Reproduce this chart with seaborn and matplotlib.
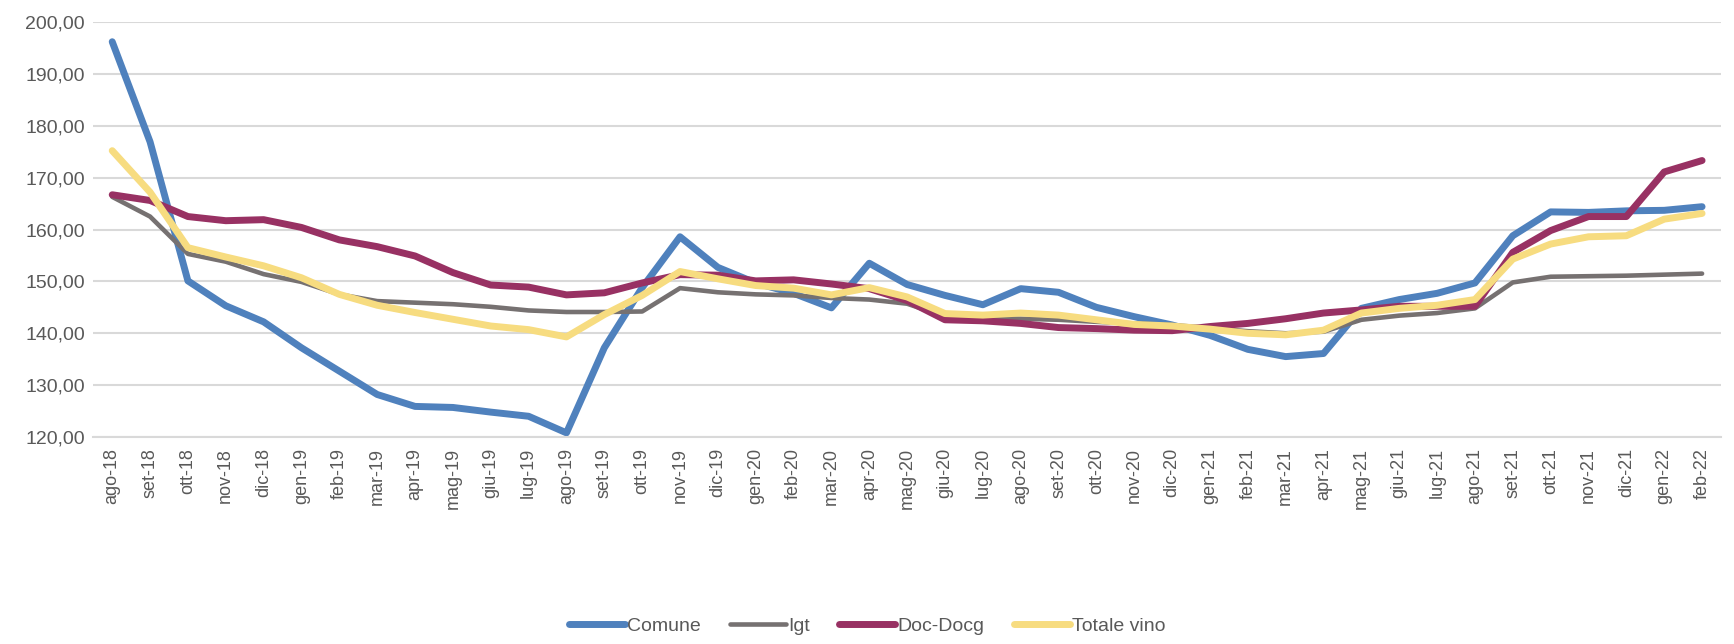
import numpy as np
import pandas as pd
import matplotlib
matplotlib.use("Agg")
import matplotlib.pyplot as plt
from matplotlib.ticker import FuncFormatter, FixedLocator
import seaborn as sns

months = ["ago-18", "set-18", "ott-18", "nov-18", "dic-18", "gen-19", "feb-19", "mar-19",
          "apr-19", "mag-19", "giu-19", "lug-19", "ago-19", "set-19", "ott-19", "nov-19",
          "dic-19", "gen-20", "feb-20", "mar-20", "apr-20", "mag-20", "giu-20", "lug-20",
          "ago-20", "set-20", "ott-20", "nov-20", "dic-20", "gen-21", "feb-21", "mar-21",
          "apr-21", "mag-21", "giu-21", "lug-21", "ago-21", "set-21", "ott-21", "nov-21",
          "dic-21", "gen-22", "feb-22"]

comune = [196.2, 176.9, 150.1, 145.3, 142.2, 137.2, 132.7, 128.2, 125.9, 125.7, 124.8, 124.0,
          120.8, 137.2, 148.8, 158.6, 152.7, 149.7, 147.7, 144.9, 153.5, 149.4, 147.3, 145.5,
          148.6, 147.9, 145.0, 143.2, 141.6, 139.6, 136.9, 135.5, 136.1, 144.8, 146.5, 147.7,
          149.7, 158.8, 163.4, 163.3, 163.6, 163.7, 164.4]
igt = [166.3, 162.5, 155.3, 153.8, 151.4, 149.9, 147.5, 146.2, 145.9, 145.6, 145.1, 144.4,
       144.1, 144.1, 144.2, 148.7, 147.9, 147.5, 147.3, 146.8, 146.5, 145.7, 143.2, 143.0,
       142.8, 142.6, 142.2, 141.9, 141.6, 141.0, 140.4, 140.0, 140.3, 142.6, 143.4, 143.9,
       144.8, 149.8, 150.9, 151.0, 151.1, 151.3, 151.5]
doc = [166.7, 165.6, 162.5, 161.7, 161.9, 160.4, 158.0, 156.7, 154.9, 151.7, 149.3, 148.9,
       147.4, 147.8, 149.7, 151.3, 151.2, 150.1, 150.3, 149.5, 148.6, 146.3, 142.6, 142.4,
       141.9, 141.1, 140.9, 140.6, 140.5, 141.3, 141.9, 142.8, 143.9, 144.5, 145.2, 145.2,
       145.2, 155.6, 159.8, 162.5, 162.5, 171.1, 173.3]
totale = [175.2, 167.2, 156.5, 154.7, 153.0, 150.7, 147.5, 145.4, 144.0, 142.7, 141.4, 140.7,
          139.3, 143.6, 147.3, 151.9, 150.5, 149.2, 148.7, 147.4, 148.8, 147.0, 143.8, 143.5,
          143.9, 143.5, 142.6, 141.7, 141.4, 140.8, 140.0, 139.7, 140.6, 143.9, 144.8, 145.4,
          146.5, 154.3, 157.2, 158.6, 158.8, 162.0, 163.1]

series_names = ["Comune", "Igt", "Doc-Docg", "Totale vino"]
series_values = [comune, igt, doc, totale]
colors = ["#4f81bd", "#767171", "#983163", "#f7dc80"]
widths = [5.0, 3.3, 5.0, 5.0]

sns.set_theme(style="white")
plt.rcParams['font.family'] = ['Liberation Sans Narrow', 'Liberation Sans', 'DejaVu Sans']
txt_color = "#595959"

rows = []
for name, vals in zip(series_names, series_values):
    for i, v in enumerate(vals):
        rows.append({"idx": i, "Mese": months[i], "Serie": name, "Valore": v})
df = pd.DataFrame(rows)

fig = plt.figure(figsize=(17.34, 6.44), dpi=100)
ax = fig.add_axes([0.0538, 0.3214, 0.9387, 0.6444])

for name, col, lw in zip(series_names, colors, widths):
    sns.lineplot(data=df[df["Serie"] == name], x="idx", y="Valore", color=col,
                 linewidth=lw, ax=ax, label=name, solid_capstyle="round",
                 solid_joinstyle="round", legend=False)

ax.set_xlim(-0.5, len(months) - 0.5)
ax.set_ylim(120, 200)
ax.set_yticks(np.arange(120, 201, 10))
ax.yaxis.set_major_formatter(FuncFormatter(lambda v, p: f"{v:.2f}".replace(".", ",")))
ax.grid(axis="y", color="#d9d9d9", linewidth=1.5)
ax.grid(axis="x", visible=False)
ax.set_axisbelow(True)

ax.set_xticks(np.arange(len(months)))
ax.set_xticklabels(months, rotation=90)
ax.xaxis.set_minor_locator(FixedLocator(np.arange(-0.5, len(months), 1.0)))
ax.tick_params(axis="x", which="major", length=0, pad=8, labelsize=13, labelcolor=txt_color)
ax.tick_params(axis="x", which="minor", length=7, width=1.5, color="#d9d9d9", direction="out")
ax.tick_params(axis="y", length=0, labelsize=14, labelcolor=txt_color, pad=6)
ax.set_xlabel("")
ax.set_ylabel("")

for s in ["top", "right", "left"]:
    ax.spines[s].set_visible(False)
ax.spines["bottom"].set_color("#d9d9d9")
ax.spines["bottom"].set_linewidth(1.5)

handles, labels = ax.get_legend_handles_labels()
leg = fig.legend(handles, labels, loc="center", bbox_to_anchor=(0.5, 0.028), ncol=4,
                 frameon=False, fontsize=14, handlelength=2.9, handletextpad=0.1,
                 columnspacing=1.5)
for t in leg.get_texts():
    t.set_color(txt_color)

fig.savefig("out.png", dpi=100)
